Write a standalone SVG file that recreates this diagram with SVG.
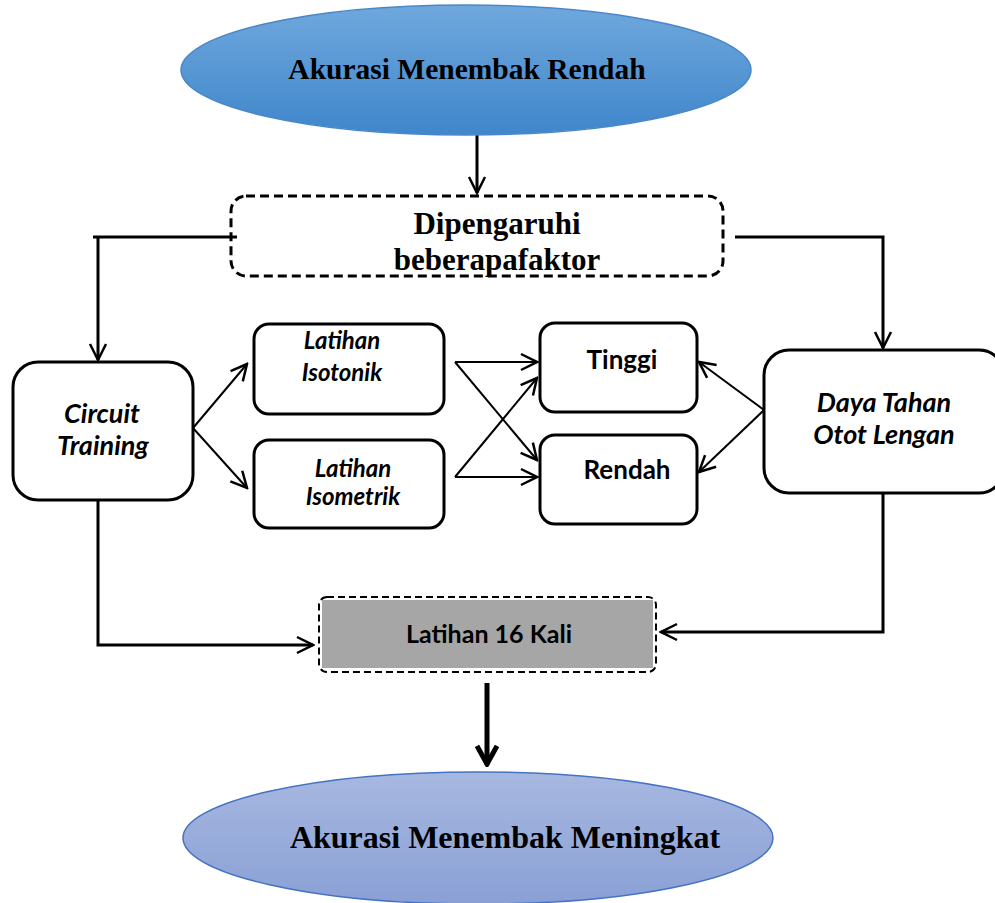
<svg xmlns="http://www.w3.org/2000/svg" width="995" height="903" viewBox="0 0 995 903">
<style>
.box{fill:#fff;stroke:#000;stroke-width:3}
.dash{fill:none;stroke:#000;stroke-width:3;stroke-dasharray:9 5}
.ln{fill:none;stroke:#000;stroke-width:3}
.thin{fill:none;stroke:#000;stroke-width:2}
.serif{font-family:"Liberation Serif","Times New Roman",serif;font-weight:bold;fill:#000}
.cal{font-family:Lato,"Open Sans",sans-serif;font-weight:bold;fill:#000}
.it{font-style:italic}
</style>
<defs>
<linearGradient id="g1" x1="0" y1="0" x2="0" y2="1"><stop offset="0" stop-color="#70a8dd"/><stop offset="1" stop-color="#3f86cb"/></linearGradient>
<linearGradient id="g2" x1="0" y1="0" x2="0" y2="1"><stop offset="0" stop-color="#a7b8e0"/><stop offset="1" stop-color="#8aa0d5"/></linearGradient>
<marker id="a2" viewBox="0 0 20 20" refX="18" refY="10" markerWidth="20" markerHeight="20" markerUnits="userSpaceOnUse" orient="auto"><path d="M2,2 L18,10 L2,18" fill="none" stroke="#000" stroke-width="2.5"/></marker>
<marker id="a3" viewBox="0 0 24 24" refX="22" refY="12" markerWidth="24" markerHeight="24" markerUnits="userSpaceOnUse" orient="auto"><path d="M3,2 L21,12 L3,22" fill="none" stroke="#000" stroke-width="5"/></marker>
</defs>
<g id="connectors">
<line class="ln" x1="477" y1="135" x2="477" y2="193" marker-end="url(#a2)"/>
<polyline class="ln" points="237,237 93,237"/>
<line class="ln" x1="98" y1="237" x2="98" y2="360" marker-end="url(#a2)"/>
<polyline class="ln" points="735,237 883,237 883,348" marker-end="url(#a2)"/>
<line class="thin" x1="193" y1="428" x2="247" y2="364" marker-end="url(#a2)"/>
<line class="thin" x1="193" y1="428" x2="247" y2="488" marker-end="url(#a2)"/>
<line class="thin" x1="455" y1="362" x2="537" y2="362" marker-end="url(#a2)"/>
<line class="thin" x1="455" y1="362" x2="537" y2="460" marker-end="url(#a2)"/>
<line class="thin" x1="455" y1="477" x2="537" y2="477" marker-end="url(#a2)"/>
<line class="thin" x1="455" y1="477" x2="537" y2="378" marker-end="url(#a2)"/>
<line class="thin" x1="764" y1="410" x2="699" y2="362" marker-end="url(#a2)"/>
<line class="thin" x1="764" y1="410" x2="699" y2="472" marker-end="url(#a2)"/>
<polyline class="ln" points="98,500 98,645 313,645" marker-end="url(#a2)"/>
<polyline class="ln" points="883,493 883,632 661,632" marker-end="url(#a2)"/>
<line stroke="#000" stroke-width="5" x1="487" y1="683" x2="487" y2="765" marker-end="url(#a3)"/>
</g>
<g id="n-top">
<ellipse cx="466" cy="70" rx="285" ry="65" fill="url(#g1)" stroke="#4a87c9" stroke-width="1.5"/>
<text class="serif" x="467" y="79" font-size="29.5" text-anchor="middle">Akurasi Menembak Rendah</text>
</g>
<g id="n-faktor">
<rect class="dash" x="231" y="196" width="492" height="80" rx="15"/>
<text class="serif" x="497" y="234" font-size="31" text-anchor="middle">Dipengaruhi</text>
<text class="serif" x="497" y="270" font-size="31" text-anchor="middle">beberapafaktor</text>
</g>
<g id="n-circuit">
<rect class="box" x="13" y="362" width="180" height="138" rx="25"/>
<text class="cal it" x="102" y="423" font-size="27" text-anchor="middle">Circuit</text>
<text class="cal it" x="103" y="455" font-size="27" text-anchor="middle">Training</text>
</g>
<g id="n-isotonik">
<rect class="box" x="254" y="324" width="190" height="90" rx="15"/>
<text class="cal it" x="342" y="349" font-size="24" text-anchor="middle">Latihan</text>
<text class="cal it" x="342" y="381" font-size="24" text-anchor="middle">Isotonik</text>
</g>
<g id="n-isometrik">
<rect class="box" x="254" y="440" width="190" height="88" rx="15"/>
<text class="cal it" x="353" y="477" font-size="24" text-anchor="middle">Latihan</text>
<text class="cal it" x="353" y="505" font-size="24" text-anchor="middle">Isometrik</text>
</g>
<g id="n-tinggi">
<rect class="box" x="540" y="323" width="157" height="89" rx="15"/>
<text class="cal" x="622" y="369" font-size="26" text-anchor="middle">Tinggi</text>
</g>
<g id="n-rendah">
<rect class="box" x="540" y="435" width="157" height="89" rx="15"/>
<text class="cal" x="627" y="479" font-size="26" text-anchor="middle">Rendah</text>
</g>
<g id="n-daya">
<rect class="box" x="764" y="350" width="240" height="143" rx="25"/>
<text class="cal it" x="884" y="412" font-size="27" text-anchor="middle">Daya Tahan</text>
<text class="cal it" x="884" y="444" font-size="27" text-anchor="middle">Otot Lengan</text>
</g>
<g id="n-latihan16">
<rect x="322" y="600" width="331" height="68" fill="#a6a6a6"/>
<rect x="319" y="597" width="337" height="75" rx="8" fill="none" stroke="#000" stroke-width="2" stroke-dasharray="7 4"/>
<text class="cal" x="489" y="643" font-size="25" text-anchor="middle">Latihan 16 Kali</text>
</g>
<g id="n-bottom">
<ellipse cx="478" cy="838" rx="295" ry="66" fill="url(#g2)" stroke="#4472c4" stroke-width="1.5"/>
<text class="serif" x="505" y="848" font-size="32" text-anchor="middle">Akurasi Menembak Meningkat</text>
</g>
</svg>
